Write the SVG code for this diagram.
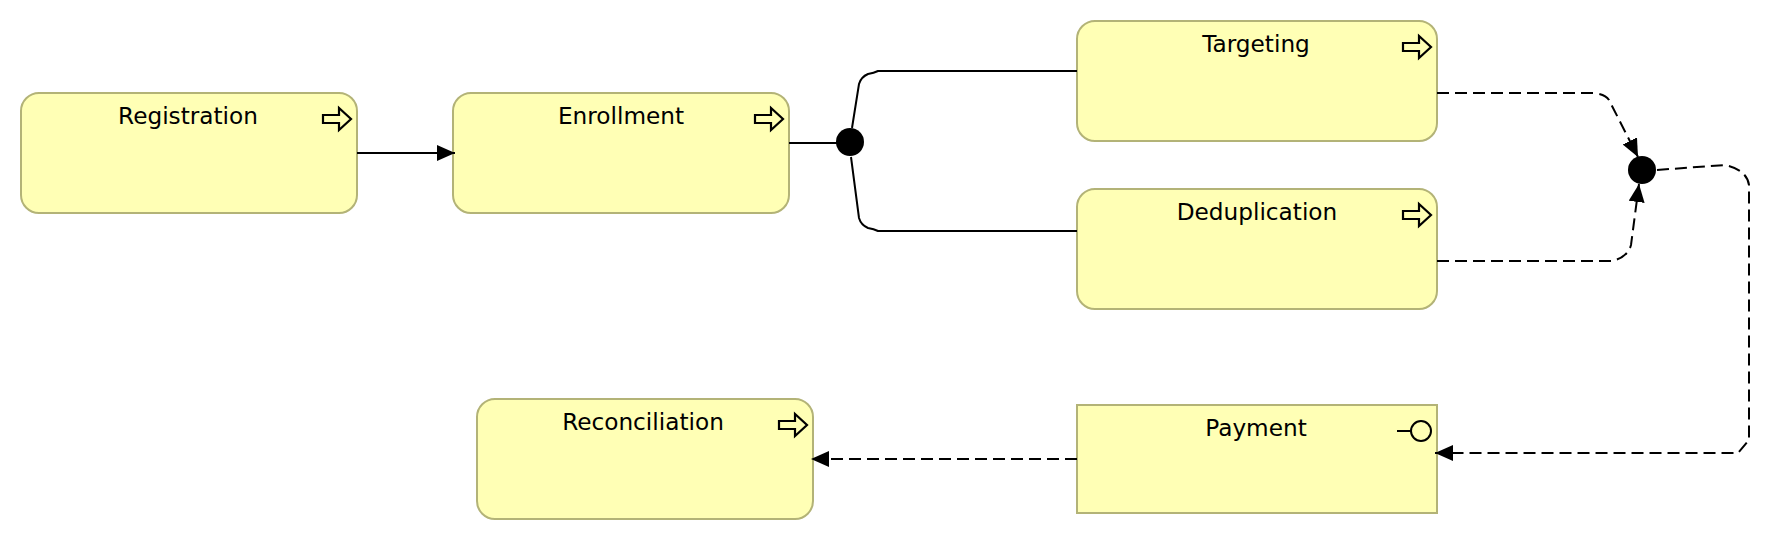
<svg xmlns="http://www.w3.org/2000/svg" width="1790" height="540" viewBox="0 0 1790 540">
<style>
.box{fill:#ffffb5;stroke:#b3b377;stroke-width:2}
.label{font-family:"DejaVu Sans",sans-serif;font-size:23.200px;fill:#000;text-anchor:middle}
.icon{fill:none;stroke:#000;stroke-width:2}
.c{fill:none;stroke:#000;stroke-width:2}
.d{stroke-dasharray:12 6}
.j{fill:#000}
</style>
<defs>
<marker id="ah" markerUnits="userSpaceOnUse" markerWidth="19" markerHeight="17" refX="18" refY="8" orient="auto"><path d="M0 0L18 8L0 16Z" fill="#000"/></marker>
<path id="ar" d="M0 7H16V0L28 11L16 22V15H0Z" fill="none" stroke="#000" stroke-width="2.200"/>
</defs>
<g id="registration"><rect class="box" x="21" y="93" width="336" height="120" rx="18"/><text class="label" x="188" y="124">Registration</text><use href="#ar" x="323" y="108"/></g>
<g id="enrollment"><rect class="box" x="453" y="93" width="336" height="120" rx="18"/><text class="label" x="621" y="124">Enrollment</text><use href="#ar" x="755" y="108"/></g>
<g id="targeting"><rect class="box" x="1077" y="21" width="360" height="120" rx="18"/><text class="label" x="1256" y="52">Targeting</text><use href="#ar" x="1403" y="36"/></g>
<g id="deduplication"><rect class="box" x="1077" y="189" width="360" height="120" rx="18"/><text class="label" x="1257" y="220">Deduplication</text><use href="#ar" x="1403" y="204"/></g>
<g id="payment"><rect class="box" x="1077" y="405" width="360" height="108"/><text class="label" x="1256" y="436">Payment</text><path class="icon" d="M1397 431H1411"/><circle class="icon" cx="1421" cy="431" r="10"/></g>
<g id="reconciliation"><rect class="box" x="477" y="399" width="336" height="120" rx="18"/><text class="label" x="643" y="430">Reconciliation</text><use href="#ar" x="779" y="414"/></g>
<g id="junction-1"><circle class="j" cx="850" cy="142" r="14"/></g>
<g id="junction-2"><circle class="j" cx="1642" cy="170" r="14"/></g>
<g id="connectors">
<path class="c" d="M357 153H455" marker-end="url(#ah)"/>
<path class="c" d="M789 143H837"/>
<path class="c" d="M852 128L859 84Q861 77 868 74Q874 73 878 71H1077"/>
<path class="c" d="M851 157L859 218Q861 225 868 228Q874 229 878 231H1077"/>
<path class="c d" d="M1437 93H1593Q1605 94 1609 100L1638 157" marker-end="url(#ah)"/>
<path class="c d" d="M1437 261H1612Q1628 257 1631 245L1639 184" marker-end="url(#ah)"/>
<path class="c d" d="M1657 170L1725 165Q1747 170 1749 185V440L1738 453H1435" marker-end="url(#ah)"/>
<path class="c d" d="M1077 459H811" marker-end="url(#ah)"/>
</g>
</svg>
